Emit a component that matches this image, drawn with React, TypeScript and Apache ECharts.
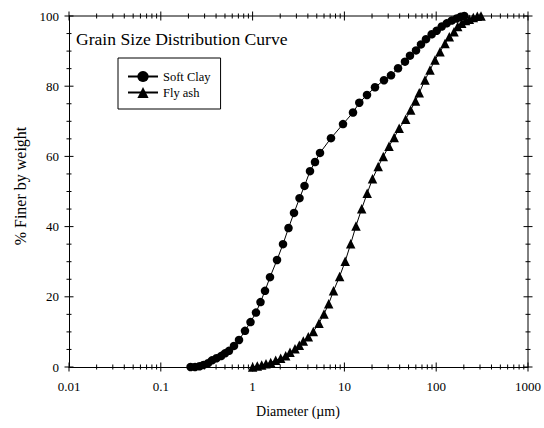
import React, { useEffect, useRef } from "react";
import * as echarts from "echarts";

const clayDiameter = [
  0.211, 0.236, 0.264, 0.292, 0.327, 0.361, 0.404, 0.453, 0.5, 0.553,
  0.627, 0.711, 0.826, 0.949, 1.089, 1.219, 1.365, 1.547, 1.845, 2.144,
  2.461, 2.825, 3.244, 3.677, 4.22, 4.783, 5.423, 7.145, 9.654, 12.41,
  14.53, 17.63, 21.54, 27.0, 32.2, 38.4, 45.7, 51.8, 60.3, 68.3,
  77.4, 89.3, 101.3, 114.8, 130.1, 147.5, 167.2, 184.9, 202.3,
];
const clayFiner = [
  0, 0, 0.2, 0.6, 1.1, 1.9, 2.5, 3.1, 3.9, 4.6,
  6.0, 7.7, 10.3, 12.8, 15.5, 18.5, 21.7, 25.6, 30.5, 35.0,
  39.6, 43.9, 48.1, 51.6, 55.8, 58.4, 61.0, 65.2, 69.2, 72.5,
  75.3, 77.5, 79.7, 81.7, 83.1, 85.1, 87.0, 88.7, 90.2, 91.9,
  93.4, 94.8, 95.8, 97.0, 97.9, 98.7, 99.3, 99.8, 100,
];
const flyDiameter = [
  1.0, 1.125, 1.256, 1.4, 1.575, 1.785, 2.023, 2.294, 2.555, 2.897,
  3.227, 3.567, 4.045, 4.585, 5.288, 5.995, 6.745, 7.608, 8.866, 10.2,
  11.71, 13.38, 15.44, 17.72, 20.24, 23.35, 26.52, 30.6, 34.87, 39.54,
  46.53, 52.74, 59.5, 65.4, 75.5, 85.6, 97.0, 110.0, 124.7, 138.9,
  156.2, 171.5, 189.6, 208.5, 229.4, 253.6, 280.3, 307.6,
];
const flyFiner = [
  0, 0.3, 0.6, 0.9, 1.3, 1.9, 2.5, 3.2, 4.2, 5.2,
  6.2, 7.4, 8.6, 10.1, 12.5, 15.1, 18.0, 21.7, 25.8, 30.1,
  35.1, 40.2, 45.1, 49.5, 53.6, 57.1, 60.0, 62.9, 65.4, 68.0,
  70.6, 73.2, 75.8, 78.1, 81.8, 84.6, 87.5, 89.8, 92.2, 94.1,
  95.5, 97.0, 97.9, 98.7, 99.1, 99.6, 99.9, 100,
];
const xTickLabels = ["0.01", "0.1", "1", "10", "100", "1000"];
const yTickLabels = ["0", "20", "40", "60", "80", "100"];
const seriesNames = ["Soft Clay", "Fly ash"];

const FONT = "'Liberation Serif', 'Times New Roman', serif";

export default function App() {
  const ref = useRef<HTMLDivElement>(null);
  useEffect(() => {
    if (!ref.current) return;
    const prevMargin = document.body.style.margin;
    document.body.style.margin = "0";
    const chart = echarts.init(ref.current, undefined, { renderer: "svg" });

    chart.setOption({
      animation: false,
      title: {
        text: "Grain Size Distribution Curve",
        left: 76,
        top: 30,
        padding: 0,
        textStyle: { fontFamily: FONT, fontSize: 17.6, fontWeight: "normal", color: "#000" },
      },
      legend: {
        data: seriesNames,
        orient: "vertical",
        left: 118,
        top: 58,
        padding: [12, 10, 10, 9],
        itemWidth: 30,
        itemHeight: 14,
        itemGap: 3,
        borderColor: "#000",
        borderWidth: 1,
        backgroundColor: "#fff",
        textStyle: { fontFamily: FONT, fontSize: 12.5, color: "#000" },
      },
      grid: { left: 69, right: 16, top: 16, bottom: 61 },
      xAxis: {
        type: "log",
        logBase: 10,
        min: 0.01,
        max: 1000,
        axisLine: { lineStyle: { color: "#000", width: 1 } },
        axisTick: { show: false },
        splitLine: { show: false },
        axisLabel: {
          margin: 13,
          fontFamily: FONT,
          fontSize: 13,
          color: "#000",
          formatter: (v: number) => xTickLabels[Math.round(Math.log10(v)) + 2] ?? "",
        },
      },
      yAxis: {
        type: "value",
        min: 0,
        max: 100,
        interval: 20,
        axisLine: { show: true, lineStyle: { color: "#000", width: 1 } },
        axisTick: { show: false },
        splitLine: { show: false },
        axisLabel: {
          margin: 10,
          fontFamily: FONT,
          fontSize: 13,
          color: "#000",
          formatter: (v: number) => yTickLabels[Math.round(v / 20)] ?? "",
        },
      },
      series: [
        {
          name: seriesNames[0],
          type: "line",
          data: clayDiameter.map((d, i) => [d, clayFiner[i]]),
          symbol: "circle",
          symbolSize: 8.5,
          itemStyle: { color: "#000" },
          lineStyle: { color: "#000", width: 1 },
          z: 3,
        },
        {
          name: seriesNames[1],
          type: "line",
          data: flyDiameter.map((d, i) => [d, flyFiner[i]]),
          symbol: "triangle",
          symbolSize: 9.5,
          itemStyle: { color: "#000" },
          lineStyle: { color: "#000", width: 1 },
          z: 3,
        },
      ],
    });

    // frame + ticks crossing it on all four sides, positioned through the axes' scales
    const toPx = (x: number, y: number) =>
      chart.convertToPixel({ xAxisIndex: 0, yAxisIndex: 0 }, [x, y]) as number[];
    const tl = toPx(0.01, 100);
    const br = toPx(1000, 0);
    const left = tl[0], top = tl[1], right = br[0], bottom = br[1];
    const r = (n: number) => (Math.round(n * 100) / 100).toString();
    let d = `M${r(left)} ${r(top)}L${r(right)} ${r(top)}L${r(right)} ${r(bottom)}`;
    for (let e = -2; e <= 3; e++) {
      for (let k = 1; k <= 9; k++) {
        if (e === 3 && k > 1) break;
        const x = toPx(k * Math.pow(10, e), 0)[0];
        const len = k === 1 ? 4.5 : 2.5;
        d += `M${r(x)} ${r(bottom - len)}L${r(x)} ${r(bottom + len)}`;
        d += `M${r(x)} ${r(top - len)}L${r(x)} ${r(top + len)}`;
      }
    }
    for (let v = 0; v <= 100; v += 5) {
      const y = toPx(1, v)[1];
      const len = v % 20 === 0 ? 4.5 : 2.5;
      d += `M${r(left - len)} ${r(y)}L${r(left + len)} ${r(y)}`;
      d += `M${r(right - len)} ${r(y)}L${r(right + len)} ${r(y)}`;
    }
    echarts.graphic.registerShape("frameTicks", echarts.graphic.extendPath(d, {}) as any);

    chart.setOption({
      graphic: [
        {
          type: "frameTicks",
          x: 0,
          y: 0,
          scaleX: 1,
          scaleY: 1,
          silent: true,
          z: 10,
          style: { stroke: "#000", fill: "none", lineWidth: 1 },
        },
        {
          type: "text",
          x: 20,
          y: 186,
          rotation: Math.PI / 2,
          style: {
            text: "% Finer by weight",
            font: `16px ${FONT}`,
            fill: "#000",
            textAlign: "center",
            textVerticalAlign: "middle",
          },
        },
        {
          type: "text",
          x: 298,
          y: 411,
          style: {
            text: "Diameter (\u00b5m)",
            font: `14px ${FONT}`,
            fill: "#000",
            textAlign: "center",
            textVerticalAlign: "middle",
          },
        },
      ],
    });

    return () => {
      chart.dispose();
      document.body.style.margin = prevMargin;
    };
  }, []);
  return <div ref={ref} style={{ width: 544, height: 428 }} />;
}
